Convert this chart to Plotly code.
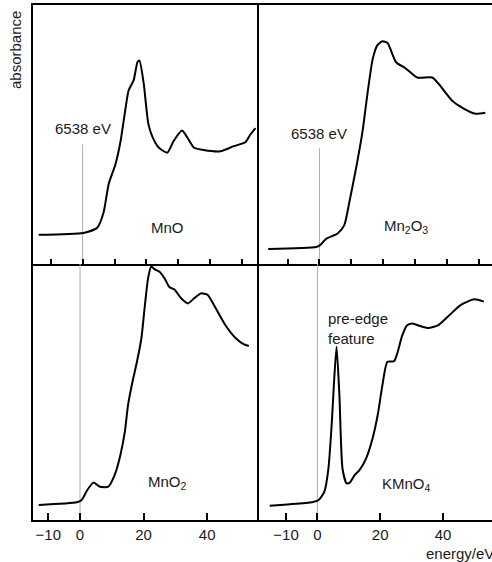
import plotly.graph_objects as go

# ---------------- data (energy relative to 6538 eV, absorbance as fraction of panel) ----------------
mno_e = [-13.7, 0.3, 4.6, 6.6, 8.2, 10.3, 11.9, 13.8, 14.4, 16.0, 17.2, 17.8, 19.1, 20.6, 21.9, 23.8,
         26.5, 28.5, 31.1, 32.7, 34.8, 37.9, 43.1, 47.3, 50.9, 52.5, 54.1]
mno_a = [0.113, 0.12, 0.14, 0.20, 0.31, 0.385, 0.475, 0.63, 0.67, 0.71, 0.78, 0.785, 0.70, 0.54, 0.49, 0.45,
         0.43, 0.475, 0.515, 0.49, 0.45, 0.44, 0.435, 0.455, 0.47, 0.50, 0.525]

mn2o3_e = [-16.1, -1.0, 0.2, 2.1, 5.7, 7.8, 9.4, 11.5, 13.5, 15.1, 16.7, 18.2, 19.8, 21.4, 24.0, 27.1,
           30.7, 35.4, 37.5, 41.7, 45.3, 49.0, 52.1]
mn2o3_a = [0.058, 0.066, 0.073, 0.097, 0.118, 0.15, 0.24, 0.37, 0.51, 0.66, 0.79, 0.845, 0.86, 0.853, 0.78, 0.755,
           0.72, 0.72, 0.695, 0.63, 0.60, 0.58, 0.584]

mno2_e = [-13.0, -1.0, 0.5, 2.3, 4.2, 6.25, 8.9, 10.9, 12.7, 14.1, 15.1, 16.5, 17.9, 19.3, 20.3, 21.4, 22.4,
          23.4, 25.0, 26.6, 28.1, 29.7, 31.8, 33.9, 35.9, 38.0, 40.1, 42.7, 45.8, 49.0, 51.6, 53.1]
mno2_a = [0.059, 0.069, 0.078, 0.117, 0.146, 0.13, 0.13, 0.176, 0.254, 0.345, 0.449, 0.54, 0.618, 0.71, 0.827,
          0.944, 0.99, 0.98, 0.97, 0.944, 0.91, 0.90, 0.866, 0.846, 0.866, 0.885, 0.88, 0.827, 0.76, 0.71,
          0.686, 0.68]

kmno4_e = [-15.2, -9.5, -1.7, 0.4, 2.2, 3.5, 4.6, 5.3, 6.1, 7.0, 8.0, 9.3, 10.3, 11.9, 13.4, 15.5, 17.6,
           19.2, 20.7, 22.3, 24.4, 25.4, 27.0, 28.5, 30.1, 32.2, 35.3, 38.4, 41.6, 45.7, 49.9, 53.0]
kmno4_a = [0.056, 0.061, 0.069, 0.078, 0.11, 0.20, 0.384, 0.54, 0.677, 0.488, 0.20, 0.143, 0.146, 0.176, 0.195,
           0.24, 0.32, 0.41, 0.527, 0.618, 0.62, 0.65, 0.72, 0.76, 0.768, 0.76, 0.75, 0.76, 0.795, 0.84,
           0.862, 0.853]

top_ticks = [-10, 0, 10, 20, 30, 40, 50]
bottom_ticks = [-10, 0, 20, 40]
bottom_tick_text = ["\u221210", "0", "20", "40"]

edge_label = "6538 eV"
compound_labels = ["MnO", "Mn<sub>2</sub>O<sub>3</sub>", "MnO<sub>2</sub>", "KMnO<sub>4</sub>"]

# ---------------- figure ----------------
W, H = 492, 562
FONT = "Liberation Sans, Arial, Helvetica, sans-serif"
TXT = "#1a1a1a"
FS = 15

def px_x(p):
    return p / W

def px_y(p):
    return (H - p) / H

xl0, xmid, xr = px_x(33), px_x(259), 1.0
ytop, ysep, ybot = px_y(5), px_y(264), px_y(520)

fig = go.Figure()

panels = [
    ("x", "y", mno_e, mno_a),
    ("x2", "y2", mn2o3_e, mn2o3_a),
    ("x3", "y3", mno2_e, mno2_a),
    ("x4", "y4", kmno4_e, kmno4_a),
]

# gray reference lines at 0 eV
zero_tops = [0.463, 0.447, 1.0, 1.0]
for (xa, ya, _, _), ztop in zip(panels, zero_tops):
    fig.add_trace(go.Scatter(x=[0, 0], y=[0, ztop], xaxis=xa, yaxis=ya, mode="lines",
                             line=dict(color="#b0b0b0", width=1), hoverinfo="skip", showlegend=False))

for xa, ya, e, a in panels:
    fig.add_trace(go.Scatter(x=e, y=a, xaxis=xa, yaxis=ya, mode="lines",
                             line=dict(color="black", width=2, shape="spline", smoothing=0.6),
                             showlegend=False))

common_x = dict(showgrid=False, zeroline=False, showline=True, linecolor="black", linewidth=2,
                ticks="inside", tickcolor="black", tickwidth=1.5)
common_y = dict(showgrid=False, zeroline=False, showline=True, linecolor="black", linewidth=2,
                showticklabels=False, ticks="", range=[0, 1], fixedrange=True, mirror=False)

fig.update_layout(
    width=W, height=H, margin=dict(l=0, r=0, t=0, b=0),
    paper_bgcolor="white", plot_bgcolor="white",
    font=dict(family=FONT, size=FS, color=TXT),
    xaxis=dict(domain=[xl0, xmid], range=[-15.5, 55.2], anchor="y", tickvals=top_ticks,
               showticklabels=False, ticklen=5, mirror=True, **common_x),
    yaxis=dict(domain=[ysep, ytop], anchor="x", **common_y),
    xaxis2=dict(domain=[xmid, xr], range=[-19.0, 54.2], anchor="y2", tickvals=top_ticks,
                showticklabels=False, ticklen=5, mirror=True, **common_x),
    yaxis2=dict(domain=[ysep, ytop], anchor="x2", **common_y),
    xaxis3=dict(domain=[xl0, xmid], range=[-14.8, 56.3], anchor="y3", tickvals=bottom_ticks,
                ticktext=bottom_tick_text, ticklen=7, tickfont=dict(family=FONT, size=FS, color=TXT),
                mirror=False, **common_x),
    yaxis3=dict(domain=[ybot, ysep], anchor="x3", **common_y),
    xaxis4=dict(domain=[xmid, xr], range=[-18.6, 55.6], anchor="y4", tickvals=bottom_ticks,
                ticktext=bottom_tick_text, ticklen=7, tickfont=dict(family=FONT, size=FS, color=TXT),
                mirror=False, **common_x),
    yaxis4=dict(domain=[ybot, ysep], anchor="x4", **common_y),
)

F = dict(family=FONT, size=FS, color=TXT)
ann = []
# edge energy labels
ann.append(dict(x=0, y=0.482, xref="x", yref="y", text=edge_label, showarrow=False, yanchor="bottom", font=F))
ann.append(dict(x=0, y=0.465, xref="x2", yref="y2", text=edge_label, showarrow=False, yanchor="bottom", font=F))
# compound labels
ann.append(dict(x=26.6, y=0.14, xref="x", yref="y", text=compound_labels[0], showarrow=False, font=F))
ann.append(dict(x=27.2, y=0.144, xref="x2", yref="y2", text=compound_labels[1], showarrow=False, font=F))
ann.append(dict(x=27.5, y=0.145, xref="x3", yref="y3", text=compound_labels[2], showarrow=False, font=F))
ann.append(dict(x=28.4, y=0.137, xref="x4", yref="y4", text=compound_labels[3], showarrow=False, font=F))
# pre-edge feature
ann.append(dict(x=2.8, y=0.83, xref="x4", yref="y4", text="pre-edge<br>feature", showarrow=False,
                xanchor="left", yanchor="top", align="left", font=F))
# axis titles
ann.append(dict(x=px_x(15), y=px_y(50), xref="paper", yref="paper", text="absorbance",
                textangle=-90, showarrow=False, xanchor="center", yanchor="middle", font=F))
ann.append(dict(x=px_x(424), y=px_y(553), xref="paper", yref="paper", text="energy/eV",
                showarrow=False, xanchor="left", yanchor="middle", font=F))
fig.update_layout(annotations=ann)

fig.write_html("out.html", config={"displayModeBar": False},
               post_script="document.body.style.margin='0';document.body.style.overflow='hidden';")
